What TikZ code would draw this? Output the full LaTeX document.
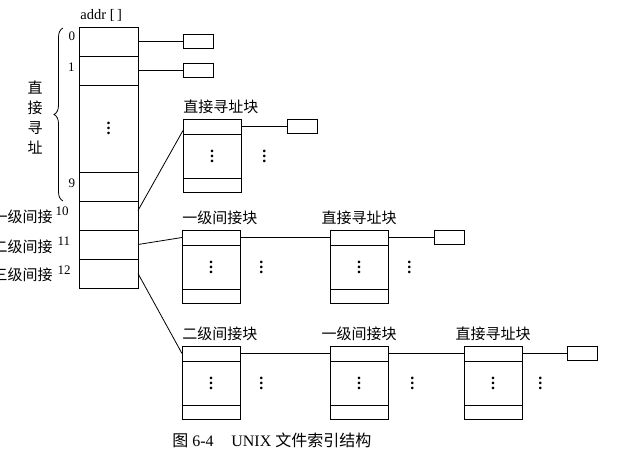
\documentclass[tikz,border=0pt]{standalone}
\usepackage{fontspec}
\setmainfont{Liberation Serif}
\newfontfamily\cjk{Noto Sans CJK SC}
\usetikzlibrary{positioning,decorations.pathreplacing}

\newcommand{\coldots}{\vbox{\fontsize{16}{5}\selectfont\bfseries\baselineskip=5pt\lineskiplimit=0pt\hbox{.}\hbox{.}\hbox{.}}}

\tikzset{
  cell/.style={draw,rectangle,inner sep=0pt,outer sep=0pt,minimum width=59pt,minimum height=29pt,anchor=north west},
  topcell/.style={draw,rectangle,inner sep=0pt,outer sep=0pt,minimum width=58pt,minimum height=15pt,anchor=north west},
  midcell/.style={topcell,minimum height=44pt},
  botcell/.style={topcell,minimum height=14pt},
  datablk/.style={draw,rectangle,inner sep=0pt,outer sep=0pt,minimum width=30pt,minimum height=14pt},
  vdotnode/.style={inner sep=0pt},
  cnlabel/.style={font=\cjk\fontsize{15}{20}\selectfont,inner sep=0pt},
  numlabel/.style={font=\fontsize{13}{15}\selectfont,inner sep=0pt},
}

\begin{document}
\begin{tikzpicture}[x=1pt,y=-1pt,line width=0.8pt]

  \useasboundingbox (0,0) rectangle (617,460);

  % addr[] table
  \node[cell] at (79,27) (c0) {};
  \node[cell,below=0pt of c0] (c1) {};
  \node[cell,minimum height=87pt,below=0pt of c1] (cd) {\coldots};
  \node[cell,below=0pt of cd] (c9) {};
  \node[cell,below=0pt of c9] (c10) {};
  \node[cell,below=0pt of c10] (c11) {};
  \node[cell,below=0pt of c11] (c12) {};

  \node[numlabel,font=\fontsize{14.5}{16}\selectfont,anchor=base west] at (80,20) (addr) {addr [\,]};
  \node[numlabel,anchor=base east] at (75.5,41) (n0) {0};
  \node[numlabel,anchor=base east] at (75,71) (n1) {1};
  \node[numlabel,anchor=base east] at (75.5,187) (n9) {9};
  \node[numlabel,anchor=base east] at (69,215) (n10) {10};
  \node[numlabel,anchor=base east] at (70.5,245) (n11) {11};
  \node[numlabel,anchor=base east] at (71,274) (n12) {12};

  \draw[decorate,decoration={brace,amplitude=9pt}] (63,201) -- (63,28);
  \node[cnlabel,align=center] at (35,118) (zj) {直\\接\\寻\\址};
  \node[cnlabel,anchor=east] at (53,217) (l10) {一级间接};
  \node[cnlabel,anchor=east] at (53,247) (l11) {二级间接};
  \node[cnlabel,anchor=east] at (53,275) (l12) {三级间接};

  % direct blocks
  \node[datablk,right=45pt of c0] (d0) {};
  \node[datablk,right=45pt of c1] (d1) {};
  \draw (c0.east) -- (d0.west);
  \draw (c1.east) -- (d1.west);

  % single indirect
  \node[topcell] at (183,119) (b1-t) {};
  \node[midcell,below=0pt of b1-t] (b1-m) {\coldots};
  \node[botcell,below=0pt of b1-m] (b1-b) {};
  \node[vdotnode,right=21pt of b1-m] (b1-o) {\coldots};
  \node[cnlabel,above right=5pt and 0pt of b1-t.north west] (b1-l) {直接寻址块};
  \node[datablk,right=46pt of b1-t] (d2) {};
  \draw ([yshift=5pt]c10.east) -- ([yshift=-4pt]b1-t.west);
  \draw (b1-t.east) -- (d2.west);

  % double indirect
  \node[topcell] at (182,230) (b2-t) {};
  \node[midcell,below=0pt of b2-t] (b2-m) {\coldots};
  \node[botcell,below=0pt of b2-m] (b2-b) {};
  \node[vdotnode,right=19pt of b2-m] (b2-o) {\coldots};
  \node[cnlabel,above right=5pt and 0pt of b2-t.north west] (b2-l) {一级间接块};

  \node[topcell] at (330,230) (b3-t) {};
  \node[midcell,below=0pt of b3-t] (b3-m) {\coldots};
  \node[botcell,below=0pt of b3-m] (b3-b) {};
  \node[vdotnode,right=19pt of b3-m] (b3-o) {\coldots};
  \node[cnlabel,above=5pt of b3-t] (b3-l) {直接寻址块};
  \node[datablk,right=46pt of b3-t] (d3) {};

  \draw (c11.east) -- (b2-t.west);
  \draw (b2-t.east) -- (b3-t.west);
  \draw (b3-t.east) -- (d3.west);

  % triple indirect
  \node[topcell] at (182,346) (b4-t) {};
  \node[midcell,below=0pt of b4-t] (b4-m) {\coldots};
  \node[botcell,below=0pt of b4-m] (b4-b) {};
  \node[vdotnode,right=19pt of b4-m] (b4-o) {\coldots};
  \node[cnlabel,above right=5pt and 0pt of b4-t.north west] (b4-l) {二级间接块};

  \node[topcell] at (330,346) (b5-t) {};
  \node[midcell,below=0pt of b5-t] (b5-m) {\coldots};
  \node[botcell,below=0pt of b5-m] (b5-b) {};
  \node[vdotnode,right=22pt of b5-m] (b5-o) {\coldots};
  \node[cnlabel,above=5pt of b5-t] (b5-l) {一级间接块};

  \node[topcell] at (464,346) (b6-t) {};
  \node[midcell,below=0pt of b6-t] (b6-m) {\coldots};
  \node[botcell,below=0pt of b6-m] (b6-b) {};
  \node[vdotnode,right=16pt of b6-m] (b6-o) {\coldots};
  \node[cnlabel,above=5pt of b6-t] (b6-l) {直接寻址块};
  \node[datablk,right=45pt of b6-t] (d4) {};

  \draw (c12.east) -- (b4-t.west);
  \draw (b4-t.east) -- (b5-t.west);
  \draw (b5-t.east) -- (b6-t.west);
  \draw (b6-t.east) -- (d4.west);

  \node[font=\fontsize{16}{18}\selectfont,inner sep=0pt,anchor=base west] at (172,446) (cap)
    {{\cjk 图} 6-4\hspace{1.1em}UNIX {\cjk 文件索引结构}};

\end{tikzpicture}
\end{document}
